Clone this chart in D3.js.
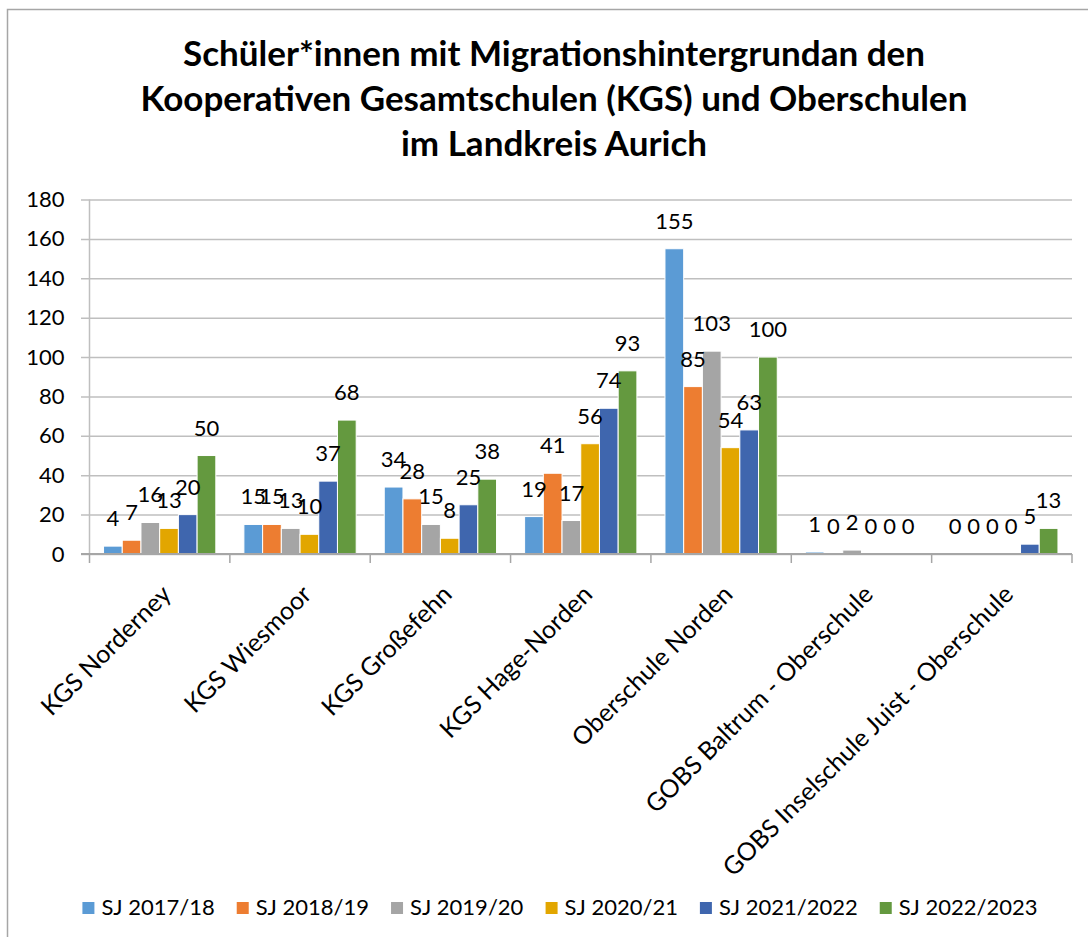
<!DOCTYPE html>
<html>
<head>
<meta charset="utf-8">
<script src="https://cdn.jsdelivr.net/npm/d3@7"></script>
<style>
    body { margin: 0; background: #fff; }
    svg { display: block; font-family: Lato, 'Open Sans', sans-serif; }
</style>
</head>
<body>
<svg></svg>
<script>
const WIDTH = 1088;
const HEIGHT = 937;

// data
const schools = ['KGS Norderney', 'KGS Wiesmoor', 'KGS Großefehn', 'KGS Hage-Norden',
    'Oberschule Norden', 'GOBS Baltrum - Oberschule', 'GOBS Inselschule Juist - Oberschule'];
const years = ['SJ 2017/18', 'SJ 2018/19', 'SJ 2019/20', 'SJ 2020/21', 'SJ 2021/2022', 'SJ 2022/2023'];
const sj1718 = [4, 15, 34, 19, 155, 1, 0];
const sj1819 = [7, 15, 28, 41, 85, 0, 0];
const sj1920 = [16, 13, 15, 17, 103, 2, 0];
const sj2021 = [13, 10, 8, 56, 54, 0, 0];
const sj2122 = [20, 37, 25, 74, 63, 0, 5];
const sj2223 = [50, 68, 38, 93, 100, 0, 13];
const yTicks = [0, 20, 40, 60, 80, 100, 120, 140, 160, 180];
const titleLines = ['Schüler*innen mit Migrationshintergrundan den',
    'Kooperativen Gesamtschulen (KGS) und Oberschulen',
    'im Landkreis Aurich'];

const seriesValues = [sj1718, sj1819, sj1920, sj2021, sj2122, sj2223];
const colors = ['#5B9BD5', '#ED7D31', '#A5A5A5', '#E2A600', '#3F66AE', '#64993F'];

const plot = { left: 89.5, right: 1072, top: 199.5, bottom: 554 };

let svg = d3.select('svg')
    .attr('width', WIDTH)
    .attr('height', HEIGHT);

// chart frame
svg.append('rect')
    .attr('x', 7.5).attr('y', 9.5)
    .attr('width', WIDTH + 20).attr('height', HEIGHT + 20)
    .attr('fill', 'none')
    .attr('stroke', '#A6A6A6')
    .attr('stroke-width', 1.5);

// title
svg.append('g').selectAll('text')
    .data(titleLines)
    .enter()
    .append('text')
        .attr('x', 554)
        .attr('y', (d, i) => 66 + i * 45)
        .attr('text-anchor', 'middle')
        .attr('font-weight', 'bold')
        .attr('font-size', 35)
        .text(d => d);

let x0 = d3.scaleBand()
    .domain(schools)
    .range([plot.left, plot.right])
    .padding(0);
let x1 = d3.scaleBand()
    .domain(years)
    .range([0, x0.bandwidth()])
    .paddingInner(0)
    .paddingOuter(0.75);
let y = d3.scaleLinear()
    .domain([0, 180])
    .range([plot.bottom, plot.top]);

// gridlines + y labels
let yAxis = svg.append('g')
    .attr('transform', `translate(${plot.left},0)`)
    .call(d3.axisLeft(y)
        .tickValues(yTicks)
        .tickSize(-(plot.right - plot.left))
        .tickSizeOuter(0)
        .tickPadding(25));
yAxis.select('.domain').remove();
yAxis.selectAll('.tick line')
    .attr('x1', -8.5)
    .attr('stroke', '#BFBFBF')
    .attr('stroke-width', 1.5);
yAxis.selectAll('.tick text')
    .attr('font-size', 22)
    .attr('font-family', 'Lato')
    .attr('fill', '#000');

// vertical axis line
svg.append('line')
    .attr('x1', plot.left).attr('x2', plot.left)
    .attr('y1', plot.top).attr('y2', plot.bottom)
    .attr('stroke', '#BFBFBF')
    .attr('stroke-width', 1.5);

// bars
const barData = [];
schools.forEach((s, i) => {
    years.forEach((yr, j) => {
        barData.push({ school: s, year: yr, value: seriesValues[j][i], color: colors[j] });
    });
});

svg.append('g').selectAll('rect')
    .data(barData)
    .enter()
    .append('rect')
        .attr('x', d => x0(d.school) + x1(d.year))
        .attr('y', d => y(d.value))
        .attr('width', x1.bandwidth())
        .attr('height', d => y(0) - y(d.value))
        .attr('fill', d => d.color)
        .attr('stroke', '#fff')
        .attr('stroke-width', 1);

// x axis line and category boundary ticks
svg.append('line')
    .attr('x1', plot.left - 8.5).attr('x2', plot.right)
    .attr('y1', plot.bottom).attr('y2', plot.bottom)
    .attr('stroke', '#A6A6A6')
    .attr('stroke-width', 2);
svg.append('g').selectAll('line')
    .data(schools.concat(['end']))
    .enter()
    .append('line')
        .attr('x1', (d, i) => plot.left + i * x0.step())
        .attr('x2', (d, i) => plot.left + i * x0.step())
        .attr('y1', plot.bottom)
        .attr('y2', plot.bottom + 9)
        .attr('stroke', '#A6A6A6')
        .attr('stroke-width', 1.5);

// data labels
svg.append('g').selectAll('text')
    .data(barData)
    .enter()
    .append('text')
        .attr('x', d => x0(d.school) + x1(d.year) + x1.bandwidth() / 2)
        .attr('y', d => y(d.value) - 20)
        .attr('text-anchor', 'middle')
        .attr('font-size', 22)
        .text(d => d.value);

// category labels
svg.append('g').selectAll('text')
    .data(schools)
    .enter()
    .append('text')
        .attr('transform', d => `translate(${x0(d) + x0.bandwidth() / 2 + 13},${plot.bottom + 42}) rotate(-45)`)
        .attr('text-anchor', 'end')
        .attr('font-size', 25)
        .text(d => d);

// legend
let legend = svg.append('g');
let items = legend.selectAll('g')
    .data(years)
    .enter()
    .append('g');
items.append('rect')
    .attr('width', 12).attr('height', 12)
    .attr('y', 902)
    .attr('fill', (d, i) => colors[i]);
items.append('text')
    .attr('x', 19)
    .attr('y', 915)
    .attr('font-size', 22)
    .text(d => d);

let widths = [];
items.each(function(){ widths.push(this.getBBox().width); });
const gap = 22;
const total = d3.sum(widths) + gap * (widths.length - 1);
let cursor = 560 - total / 2;
items.attr('transform', (d, i) => {
    const tx = cursor;
    cursor += widths[i] + gap;
    return `translate(${tx},0)`;
});
</script>
</body>
</html>
